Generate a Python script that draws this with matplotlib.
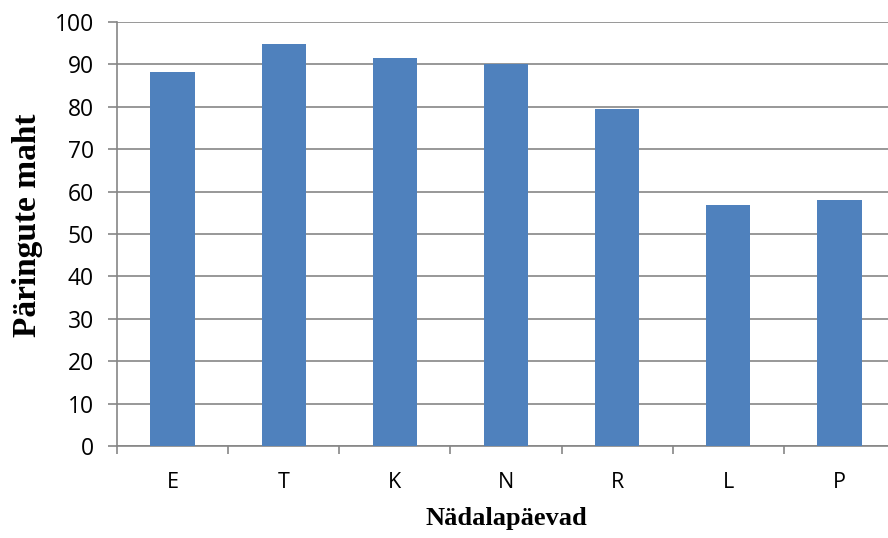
import numpy as np
import matplotlib.pyplot as plt

# Päringute maht nädalapäevade kaupa
days = ["E", "T", "K", "N", "R", "L", "P"]
volume = [88.2, 94.8, 91.6, 90.2, 79.4, 56.9, 58.1]

bar_color = "#4F81BD"
grid_color = "#868686"
tick_font = "Open Sans"

fig = plt.figure(figsize=(8.88, 5.38), dpi=100)
# plot area runs slightly past the right edge of the canvas
ax = fig.add_axes([0.1318, 0.171, 0.876, 0.788])

x = np.arange(len(days))
ax.bar(x, volume, width=0.40, color=bar_color, zorder=3)

ax.set_xlim(-0.5, len(days) - 0.5)
ax.set_ylim(0, 100)
ax.set_yticks(np.arange(0, 101, 10))
ax.yaxis.grid(True, color=grid_color, linewidth=1.2, zorder=0)

# category labels centred, tick marks at boundaries
ax.set_xticks(x)
ax.set_xticklabels(days, fontsize=15.5, family=tick_font)
ax.set_xticks(np.arange(-0.5, len(days)), minor=True)
ax.tick_params(axis="x", which="major", length=0, pad=19)
ax.tick_params(axis="x", which="minor", length=6, width=1.2, color=grid_color, direction="out")
ax.tick_params(axis="y", length=6.5, width=1.2, color=grid_color, labelsize=16.5, pad=10)
for lab in ax.get_yticklabels():
    lab.set_family(tick_font)

for side in ["top", "right"]:
    ax.spines[side].set_visible(False)
for side in ["left", "bottom"]:
    ax.spines[side].set_color(grid_color)
    ax.spines[side].set_linewidth(1.2)

ax.set_xlabel("Nädalapäevad", fontsize=19, fontweight="bold", family="Liberation Serif", va="top")
ax.set_ylabel("Päringute maht", fontsize=24, fontweight="bold", family="Liberation Serif")
ax.xaxis.set_label_coords(0.5, -0.143)
ax.yaxis.set_label_coords(-0.095, 0.52)

fig.savefig("out.png", dpi=100)
